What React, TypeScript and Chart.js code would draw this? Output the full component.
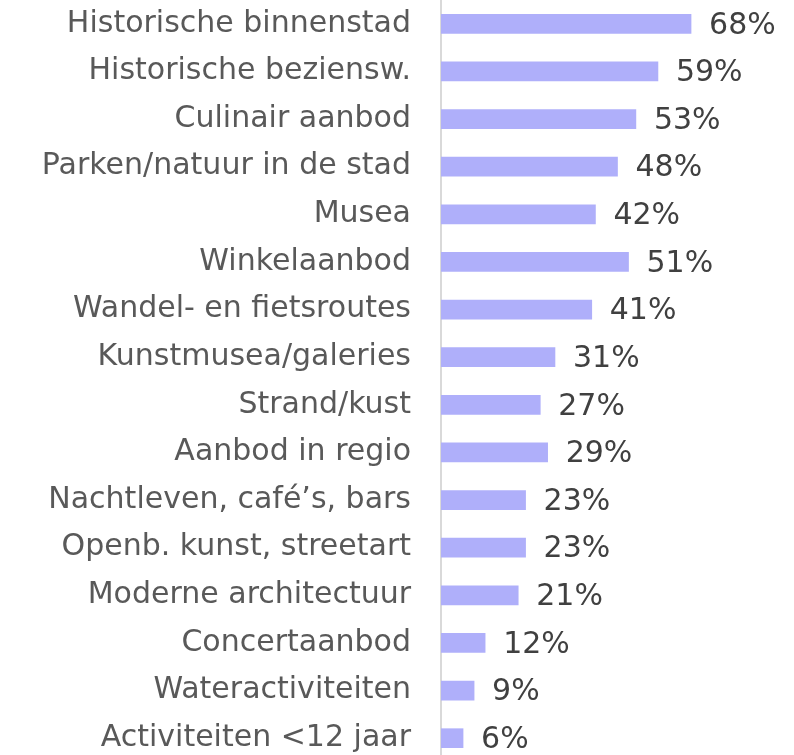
import React, { useEffect, useRef } from "react";
import { Chart, registerables } from "chart.js";

Chart.register(...registerables);

const categories = [
  "Historische binnenstad",
  "Historische beziensw.",
  "Culinair aanbod",
  "Parken/natuur in de stad",
  "Musea",
  "Winkelaanbod",
  "Wandel- en fietsroutes",
  "Kunstmusea/galeries",
  "Strand/kust",
  "Aanbod in regio",
  "Nachtleven, café’s, bars",
  "Openb. kunst, streetart",
  "Moderne architectuur",
  "Concertaanbod",
  "Wateractiviteiten",
  "Activiteiten <12 jaar",
];

const values = [68, 59, 53, 48, 42, 51, 41, 31, 27, 29, 23, 23, 21, 12, 9, 6];

const FONT = "'DejaVu Sans', sans-serif";

const valueLabels = {
  id: "valueLabels",
  afterDatasetsDraw(chart: any) {
    const ctx = chart.ctx;
    const meta = chart.getDatasetMeta(0);
    ctx.save();
    ctx.font = `30px ${FONT}`;
    ctx.fillStyle = "#404040";
    ctx.textAlign = "left";
    ctx.textBaseline = "middle";
    meta.data.forEach((bar: any, i: number) => {
      ctx.fillText(values[i] + "%", bar.x + 18, bar.y + 2);
    });
    ctx.restore();
  },
};

export default function App() {
  const ref = useRef<HTMLCanvasElement>(null);
  useEffect(() => {
    if (!ref.current) return;
    const chart = new Chart(ref.current, {
      type: "bar",
      data: {
        labels: categories,
        datasets: [
          {
            data: values,
            backgroundColor: "#afaffa",
            borderWidth: 0,
            barThickness: 19,
          },
        ],
      },
      options: {
        indexAxis: "y",
        responsive: false,
        animation: false,
        layout: { padding: 0 },
        plugins: {
          legend: { display: false },
          tooltip: { enabled: false },
        },
        scales: {
          x: {
            display: false,
            min: 0,
            max: 96,
          },
          y: {
            grid: { display: false, drawTicks: false },
            border: { display: true, color: "#d9d9d9", width: 2 },
            ticks: {
              color: "#595959",
              font: { family: FONT, size: 30 },
              padding: 30,
            },
            afterFit(scale: any) {
              scale.width = 441;
              scale.paddingTop = 0;
              scale.paddingBottom = 0;
            },
          },
        },
      },
      plugins: [valueLabels],
    });
    return () => chart.destroy();
  }, []);
  return (
    <div style={{ position: "fixed", left: 0, top: 0, width: 794, height: 762 }}>
      <canvas ref={ref} width={794} height={762} style={{ display: "block" }} />
    </div>
  );
}
